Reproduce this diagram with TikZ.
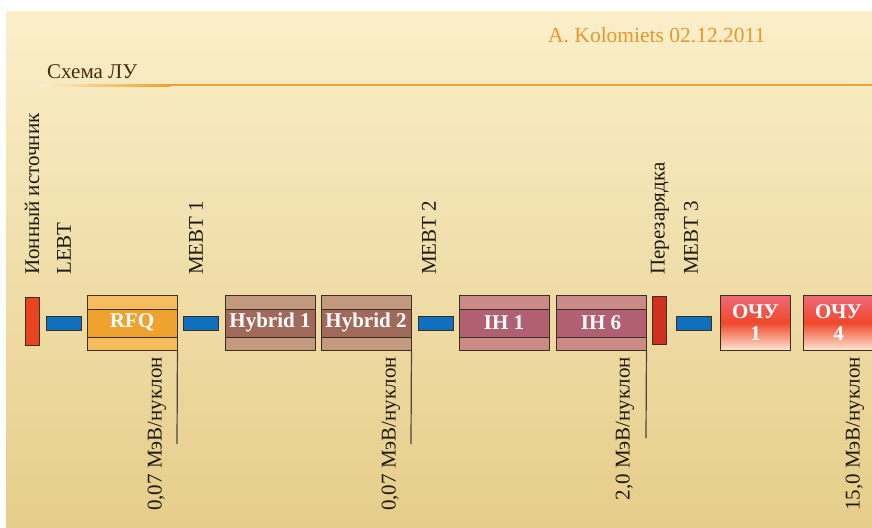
\documentclass[tikz,border=0pt]{standalone}
\usepackage{fontspec}
\setmainfont{Liberation Serif}
\definecolor{bgtop}{HTML}{FAEFC9}
\definecolor{bgbot}{HTML}{E6CD8A}
\definecolor{titlec}{HTML}{E8962E}
\definecolor{headc}{HTML}{4A2A0E}
\definecolor{rulec}{HTML}{F0A030}
\definecolor{labelc}{HTML}{1E1A14}
\definecolor{edgec}{HTML}{3A3020}
\definecolor{beamc}{HTML}{1070C0}
\definecolor{srcc}{HTML}{E84422}
\definecolor{strc}{HTML}{D03020}
\definecolor{rfql}{HTML}{F5BD5E}
\definecolor{rfqm}{HTML}{F0A22E}
\definecolor{hybl}{HTML}{C39A80}
\definecolor{hybm}{HTML}{A06A5A}
\definecolor{ihl}{HTML}{C98A88}
\definecolor{ihm}{HTML}{B06070}
\definecolor{ochtop}{HTML}{EE6A7A}
\definecolor{ochmid}{HTML}{F0482A}
\definecolor{ochbot}{HTML}{FDE4D2}
\definecolor{tickc}{HTML}{4A4640}
\tikzset{
  lbl/.style={font=\fontsize{21}{24}\selectfont, text=labelc, inner sep=0pt, rotate=90},
  stage/.style 2 args={draw=edgec, line width=0.9pt, fill=#2, minimum width=90pt, minimum height=55pt,
    inner sep=0pt, text=white, font=\fontsize{21}{24}\selectfont\bfseries,
    path picture={
      \fill[#1] (path picture bounding box.north west) rectangle ([yshift=-14pt]path picture bounding box.north east);
      \fill[#1] ([yshift=13pt]path picture bounding box.south west) rectangle (path picture bounding box.south east);
      \draw[edgec, line width=0.9pt] ([yshift=-14pt]path picture bounding box.north west) -- ([yshift=-14pt]path picture bounding box.north east);
      \draw[edgec, line width=0.9pt] ([yshift=13pt]path picture bounding box.south west) -- ([yshift=13pt]path picture bounding box.south east);
    }},
  och/.style={draw=edgec, line width=0.9pt, minimum width=70pt, minimum height=55pt, inner sep=0pt,
    top color=ochtop, bottom color=ochbot, middle color=ochmid, align=center,
    text=white, font=\fontsize{21}{22}\selectfont\bfseries},
  beam/.style={draw=edgec, line width=0.8pt, fill=beamc, minimum width=35pt, minimum height=14pt, inner sep=0pt},
  source/.style={draw=edgec, line width=0.8pt, fill=#1, minimum width=14pt, minimum height=48pt, inner sep=0pt},
  tick/.style={draw=tickc, line width=1.2pt}
}
\begin{document}
\begin{tikzpicture}[x=1pt, y=-1pt]
\useasboundingbox (0,0) rectangle (872,527);
\fill[white] (0,0) rectangle (872,527);
\shade[top color=bgtop, bottom color=bgbot] (6,12) rectangle (872,527);
% header
\node[anchor=base west, inner sep=0pt, text=titlec, font=\fontsize{21.5}{24}\selectfont] (title) at (548,42) {A. Kolomiets 02.12.2011};
\node[anchor=base west, inner sep=0pt, text=headc, font=\fontsize{21}{24}\selectfont] (head) at (47,78) {Схема ЛУ};
\shade[left color=bgtop, right color=rulec] (40,84) rectangle (170,86);
\fill[rulec] (170,84) rectangle (872,86);
% beamline
\node[source=srcc] (src) at (32,321) {};
\node[beam] (lebt) at (63.5,323) {};
\node[stage={rfql}{rfqm}] (rfq) at (132,322.5) {RFQ};
\node[beam] (mebt1) at (201,323) {};
\node[stage={hybl}{hybm}] (hyb1) at (270,322.5) {Hybrid 1};
\node[stage={hybl}{hybm}] (hyb2) at (366,322.5) {Hybrid 2};
\node[beam] (mebt2) at (435.5,323) {};
\node[stage={ihl}{ihm}] (ih1) at (504,322.5) {IH 1};
\node[stage={ihl}{ihm}] (ih6) at (601,322.5) {IH 6};
\node[source=strc] (strip) at (659,320.5) {};
\node[beam] (mebt3) at (693.5,323) {};
\node[och] (och1) at (755.5,322.5) {ОЧУ\\1};
\node[och] (och4) at (838.5,322.5) {ОЧУ\\4};
% top labels
\node[lbl, anchor=west] (lsrc) at (32,275) {Ионный источник};
\node[lbl, anchor=west] (llebt) at (64,275) {LEBT};
\node[lbl, anchor=west] (lmebt1) at (196,275) {MEBT 1};
\node[lbl, anchor=west] (lmebt2) at (429,275) {MEBT 2};
\node[lbl, anchor=west] (lstrip) at (660,275) {Перезарядка};
\node[lbl, anchor=west] (lmebt3) at (691,275) {MEBT 3};
% energy marks
\coordinate (e1) at (177,444);
\coordinate (e2) at (411,444);
\coordinate (e3) at (646,438);
\draw[tick] (rfq.south east) -- (e1);
\draw[tick] (hyb2.south east) -- (e2);
\draw[tick] (ih6.south east) -- (e3);
\node[lbl, anchor=east] (en1) at (157,357) {0,07 МэВ/нуклон};
\node[lbl, anchor=east] (en2) at (391,357) {0,07 МэВ/нуклон};
\node[lbl, anchor=east] (en3) at (625,357) {2,0 МэВ/нуклон};
\node[lbl, anchor=east] (en4) at (855,357) {15,0 МэВ/нуклон};
\end{tikzpicture}
\end{document}
